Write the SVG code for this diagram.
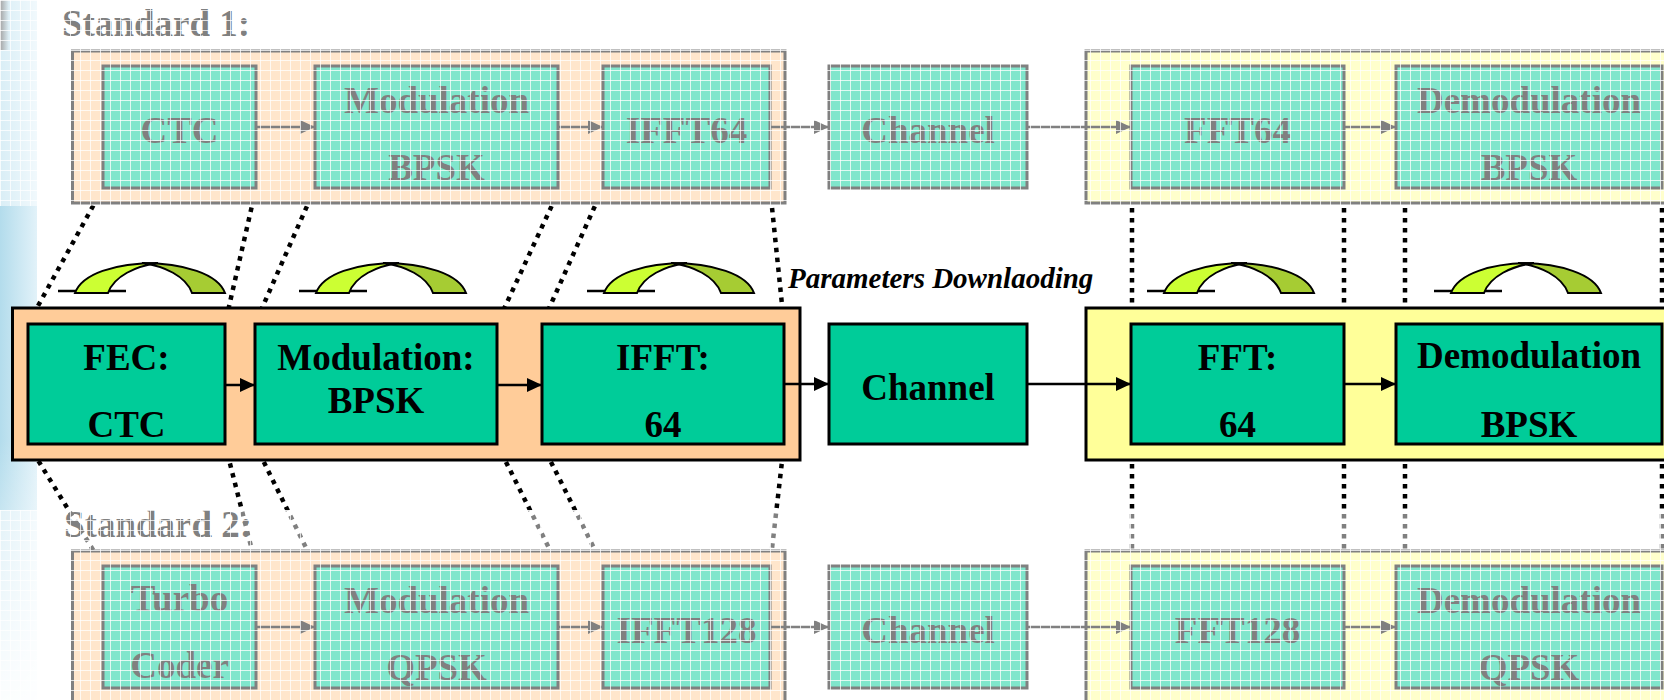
<svg xmlns="http://www.w3.org/2000/svg" width="1664" height="700" viewBox="0 0 1664 700">
<style>
  .t{font-family:"Liberation Serif","Times New Roman",serif;font-weight:bold;font-size:37px;fill:#000;text-anchor:middle}
  .lbl{font-family:"Liberation Serif","Times New Roman",serif;font-weight:bold;font-size:37px;fill:#000}
  .it{font-family:"Liberation Serif","Times New Roman",serif;font-weight:bold;font-style:italic;font-size:29px;fill:#000}
  .box{fill:#00CC99;stroke:#000;stroke-width:3}
  .fp{fill:#FFCC99;stroke:#000;stroke-width:3}
  .fy{fill:#FFFF99;stroke:#000;stroke-width:3}
  .con{stroke:#000;stroke-width:2.5;fill:none;marker-end:url(#ah)}
  .ln{stroke:#000;stroke-width:2.5;fill:none}
  .dot{stroke:#000;stroke-width:4.5;stroke-dasharray:4.5 5.5;fill:none}
  .a1{fill:#CCFF33;stroke:#000;stroke-width:2}
  .a2{fill:#A6CC33;stroke:#000;stroke-width:2}
</style>
<defs>
  <marker id="ah" markerUnits="userSpaceOnUse" markerWidth="15" markerHeight="14" refX="15" refY="7" orient="auto">
    <path d="M0,0 L15,7 L0,14 Z" fill="#000"/>
  </marker>
  <pattern id="veil" width="10" height="10" patternUnits="userSpaceOnUse">
    <rect width="10" height="10" fill="#fff" fill-opacity="0.5"/>
    <path d="M0,0.5 H10 M0.5,0 V10" stroke="#fff" stroke-opacity="0.75" stroke-width="1"/>
  </pattern>
  <linearGradient id="stripe" x1="0" y1="0" x2="1" y2="0">
    <stop offset="0" stop-color="#B3DCEC"/>
    <stop offset="1" stop-color="#E2F2F9"/>
  </linearGradient>
  <linearGradient id="stripeV" x1="0" y1="0" x2="0" y2="1">
    <stop offset="0" stop-color="#fff" stop-opacity="0"/>
    <stop offset="1" stop-color="#fff" stop-opacity="0.9"/>
  </linearGradient>
  <linearGradient id="dark" x1="0" y1="0" x2="1" y2="0">
    <stop offset="0" stop-color="#4a4a4a"/>
    <stop offset="1" stop-color="#4a4a4a" stop-opacity="0"/>
  </linearGradient>
  <g id="arc">
    <path d="M-92,291 H-24" class="ln"/>
    <path class="a2" d="M-8,263 C34,263 68,274 75,293 L42,293 C36,276 14,266 -8,263 Z"/>
    <path class="a1" d="M-75,293 C-68,274 -36,263 8,263 C-14,266 -36,276 -42,293 Z"/>
  </g>
</defs>

<!-- background stripe -->
<g id="background">
  <rect x="0" y="0" width="1664" height="700" fill="#fff"/>
  <rect x="0" y="0" width="37" height="700" fill="url(#stripe)"/>
  <rect x="0" y="440" width="37" height="260" fill="url(#stripeV)"/>
  <rect x="0" y="0" width="9" height="50" fill="url(#dark)"/>
</g>

<!-- dotted mapping lines -->
<g id="mapping-lines">
  <path class="dot" d="M103,188 L28,324"/>
  <path class="dot" d="M256,188 L225,324"/>
  <path class="dot" d="M315,188 L255,324"/>
  <path class="dot" d="M560,188 L497,324"/>
  <path class="dot" d="M603,188 L542,324"/>
  <path class="dot" d="M770,188 L784,324"/>
  <path class="dot" d="M1132,188 L1132,324"/>
  <path class="dot" d="M1344,188 L1344,324"/>
  <path class="dot" d="M1405,188 L1405,324"/>
  <path class="dot" d="M1662,188 L1662,324"/>
  <path class="dot" d="M28,444 L103,566"/>
  <path class="dot" d="M225,444 L256,566"/>
  <path class="dot" d="M255,444 L315,566"/>
  <path class="dot" d="M497,444 L558,566"/>
  <path class="dot" d="M542,444 L603,566"/>
  <path class="dot" d="M784,444 L770,566"/>
  <path class="dot" d="M1132,444 L1132,566"/>
  <path class="dot" d="M1344,444 L1344,566"/>
  <path class="dot" d="M1405,444 L1405,566"/>
  <path class="dot" d="M1662,444 L1662,566"/>
</g>

<!-- frames -->
<g id="frames">
  <rect id="s1-tx-frame" class="fp" x="72.5" y="51" width="712.5" height="152"/>
  <rect id="s1-rx-frame" class="fy" x="1086" y="51" width="620" height="152"/>
  <rect id="tx-frame" class="fp" x="12.5" y="308" width="787.5" height="152"/>
  <rect id="rx-frame" class="fy" x="1086" y="308" width="620" height="152"/>
  <rect id="s2-tx-frame" class="fp" x="72.5" y="551" width="712.5" height="160"/>
  <rect id="s2-rx-frame" class="fy" x="1086" y="551" width="620" height="160"/>
</g>

<!-- connectors -->
<g id="connectors">
  <path class="con" d="M256,127 H315"/>
  <path class="con" d="M558,127 H603"/>
  <path class="con" d="M770,127 H829"/>
  <path class="con" d="M1027,127 H1131"/>
  <path class="con" d="M1344,127 H1396"/>
  <path class="con" d="M225,385 H255"/>
  <path class="con" d="M497,385 H542"/>
  <path class="con" d="M784,384 H829"/>
  <path class="con" d="M1027,384 H1131"/>
  <path class="con" d="M1344,384 H1396"/>
  <path class="con" d="M256,627 H315"/>
  <path class="con" d="M558,627 H603"/>
  <path class="con" d="M770,627 H829"/>
  <path class="con" d="M1027,627 H1131"/>
  <path class="con" d="M1344,627 H1396"/>
</g>

<!-- Standard 1 nodes -->
<g id="s1-ctc"><rect class="box" x="103" y="66" width="153" height="122"/><text class="t" x="179.5" y="143">CTC</text></g>
<g id="s1-mod"><rect class="box" x="315" y="66" width="243" height="122"/><text class="t" x="436.5" y="113">Modulation</text><text class="t" x="436.5" y="180">BPSK</text></g>
<g id="s1-ifft"><rect class="box" x="603" y="66" width="167" height="122"/><text class="t" x="686.5" y="143">IFFT64</text></g>
<g id="s1-channel"><rect class="box" x="829" y="66" width="198" height="122"/><text class="t" x="928" y="143">Channel</text></g>
<g id="s1-fft"><rect class="box" x="1131" y="66" width="213" height="122"/><text class="t" x="1237.5" y="143">FFT64</text></g>
<g id="s1-demod"><rect class="box" x="1396" y="66" width="266" height="122"/><text class="t" x="1529" y="113">Demodulation</text><text class="t" x="1529" y="180">BPSK</text></g>

<!-- Reconfigurable nodes -->
<g id="fec"><rect class="box" x="28" y="324" width="197" height="120"/><text class="t" x="126.5" y="370">FEC:</text><text class="t" x="126.5" y="437">CTC</text></g>
<g id="mod"><rect class="box" x="255" y="324" width="242" height="120"/><text class="t" x="376" y="370">Modulation:</text><text class="t" x="376" y="413">BPSK</text></g>
<g id="ifft"><rect class="box" x="542" y="324" width="242" height="120"/><text class="t" x="663" y="370">IFFT:</text><text class="t" x="663" y="437">64</text></g>
<g id="channel"><rect class="box" x="829" y="324" width="198" height="120"/><text class="t" x="928" y="400">Channel</text></g>
<g id="fft"><rect class="box" x="1131" y="324" width="213" height="120"/><text class="t" x="1237.5" y="370">FFT:</text><text class="t" x="1237.5" y="437">64</text></g>
<g id="demod"><rect class="box" x="1396" y="324" width="266" height="120"/><text class="t" x="1529" y="368">Demodulation</text><text class="t" x="1529" y="437">BPSK</text></g>

<!-- Standard 2 nodes -->
<g id="s2-turbo"><rect class="box" x="103" y="566" width="153" height="122"/><text class="t" x="179.5" y="611">Turbo</text><text class="t" x="179.5" y="678">Coder</text></g>
<g id="s2-mod"><rect class="box" x="315" y="566" width="243" height="122"/><text class="t" x="436.5" y="613">Modulation</text><text class="t" x="436.5" y="680">QPSK</text></g>
<g id="s2-ifft"><rect class="box" x="603" y="566" width="167" height="122"/><text class="t" x="686.5" y="643">IFFT128</text></g>
<g id="s2-channel"><rect class="box" x="829" y="566" width="198" height="122"/><text class="t" x="928" y="643">Channel</text></g>
<g id="s2-fft"><rect class="box" x="1131" y="566" width="213" height="122"/><text class="t" x="1237.5" y="643">FFT128</text></g>
<g id="s2-demod"><rect class="box" x="1396" y="566" width="266" height="122"/><text class="t" x="1529" y="613">Demodulation</text><text class="t" x="1529" y="680">QPSK</text></g>

<!-- parameter download arcs -->
<g id="arcs">
  <use href="#arc" transform="translate(150,0)"/>
  <use href="#arc" transform="translate(391,0)"/>
  <use href="#arc" transform="translate(679,0)"/>
  <use href="#arc" transform="translate(1239,0)"/>
  <use href="#arc" transform="translate(1526,0)"/>
</g>

<!-- labels -->
<g id="labels">
  <text class="lbl" x="62" y="36">Standard 1:</text>
  <text class="lbl" x="64" y="537">Standard 2:</text>
  <text class="it" x="788" y="288">Parameters Downlaoding</text>
</g>

<!-- faded overlay on the two standards -->
<g id="veils">
  <rect x="0" y="0" width="1664" height="206" fill="url(#veil)"/>
  <rect x="0" y="510" width="1664" height="190" fill="url(#veil)"/>
</g>
</svg>
